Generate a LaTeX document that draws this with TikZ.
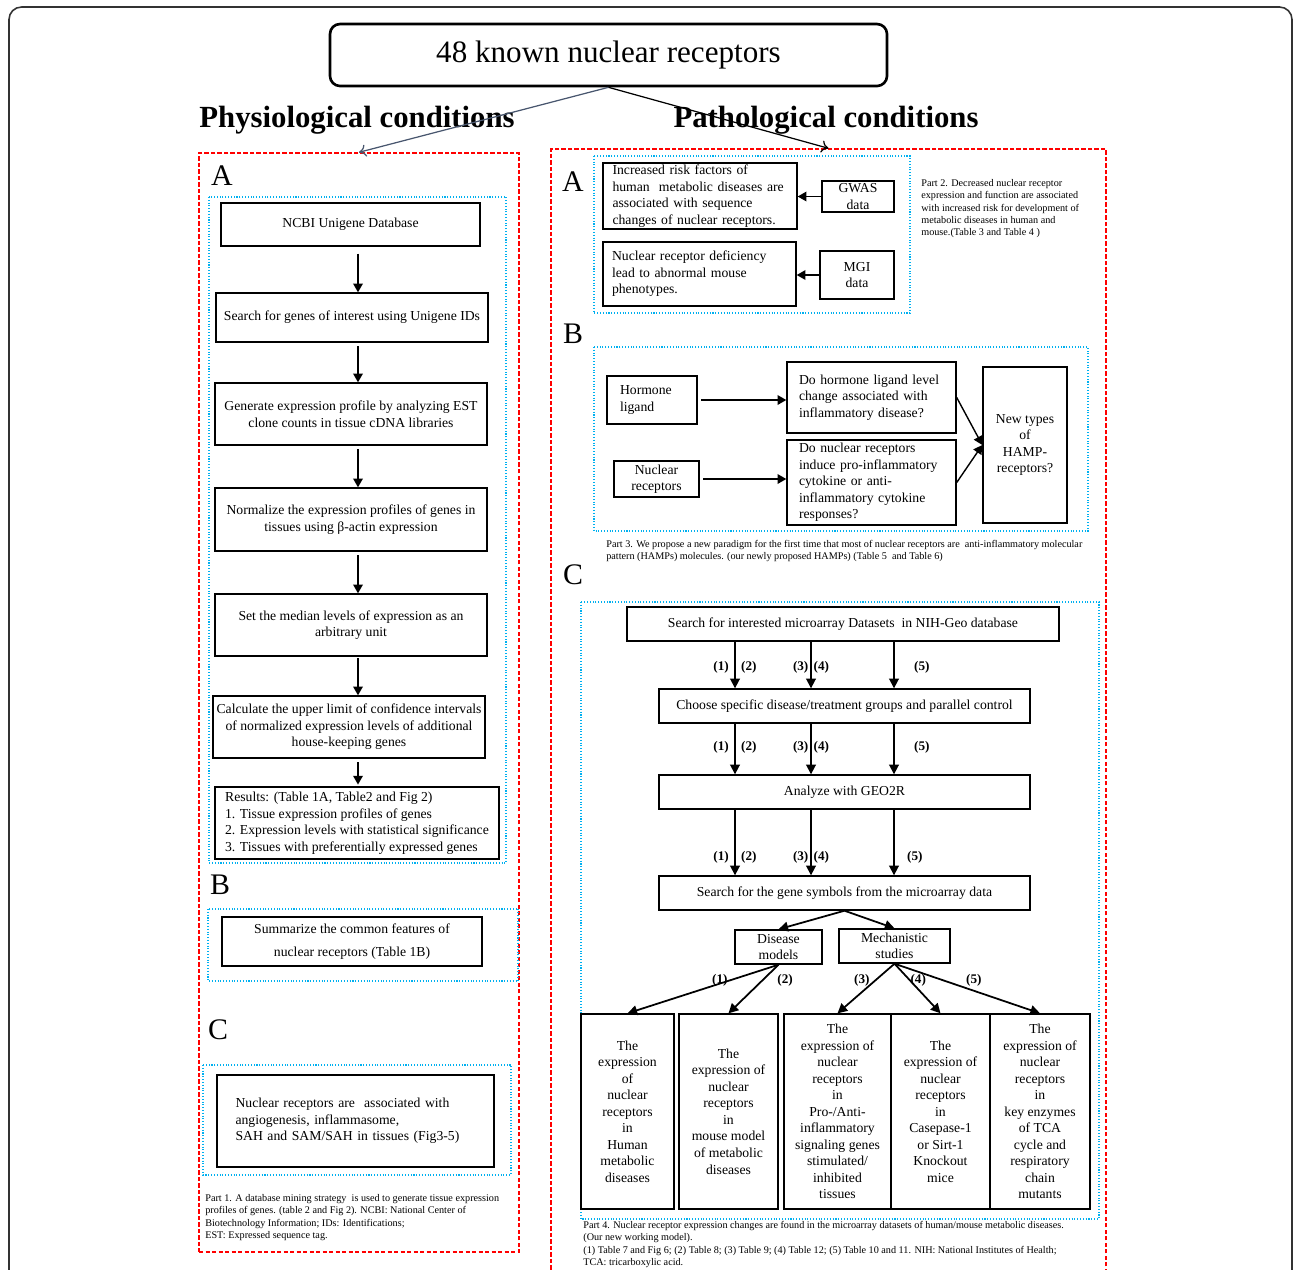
\documentclass[tikz,border=0pt]{standalone}
\usepackage{xcolor}
\usepackage{fontspec}
\setmainfont{Liberation Serif}
\usepackage{tikz}
\usetikzlibrary{arrows.meta, calc}

\definecolor{dotblue}{RGB}{0,176,240}
\definecolor{slate}{RGB}{72,86,110}

\tikzset{
	sz/.style 2 args={minimum width={#1*0.02cm}, minimum height={#2*0.02cm}},
	box/.style={draw, thick, inner sep=0pt, align=center, font=\fontsize{7.8}{9.4}\selectfont},
	redbox/.style={draw=red, line width=0.8pt, dash pattern=on 2.5pt off 1.2pt, inner sep=0pt},
	bluebox/.style={draw=dotblue, line width=0.6pt, densely dotted},
	arr/.style={-{Triangle[length=5pt, width=5.5pt]}, thick},
	arrc/.style={-{Triangle[length=5.5pt, width=5.5pt]}, line width=1pt},
	num/.style={font=\fontsize{7.5}{9}\selectfont\bfseries, inner sep=3pt},
	captext/.style={anchor=north west, align=left, inner sep=0pt, font=\fontsize{5.8}{7}\selectfont},
	letter/.style={font=\fontsize{17}{20}\selectfont},
	head/.style={font=\fontsize{17.5}{20}\selectfont\bfseries}
}

\begin{document}
\begin{tikzpicture}[x=0.02cm, y=-0.02cm]

	\useasboundingbox (0,0) rectangle (1295,1269);

	% outer frame
	\draw[line width=0.9pt, draw=black!80, rounded corners=0.25cm] (9,1290) -- (9,7) -- (1292,7) -- (1292,1290);

	\node[draw, line width=1.5pt, rounded corners=0.2cm, sz={557}{62}, font=\fontsize{17.7}{20}\selectfont] (nr) at (608.5,55) {48 known nuclear receptors};

	\node[head] (physlbl) at (357,120) {Physiological conditions};
	\node[head] (pathlbl) at (826,120) {Pathological conditions};

	\node[redbox, sz={320}{1099}] (phys) at (359,702.5) {};
	\node[redbox, sz={555}{1141}] (path) at (828.5,719.5) {};

	\draw[-{To[length=4pt, width=7pt]}, draw=slate, line width=0.7pt] (nr.south) -- (phys.north);
	\draw[-{To[length=4pt, width=7pt]}, line width=0.7pt] (nr.south) -- (path.north);

	% Part 1
	\begin{scope}
		\node[letter] (la) at (222,176) {A};
		\draw[bluebox] (209,197) rectangle (506,863);
		\coordinate (lx) at (358,0);

		\node[box, sz={259}{43}] (ncbi) at (350.5,224.5) {NCBI Unigene Database};
		\node[box, sz={272}{49}] (srch) at (352,317.5) {Search for genes of interest using Unigene IDs};
		\node[box, sz={272}{62}] (gen) at (351,414) {Generate expression profile by analyzing EST\\clone counts in tissue cDNA libraries};
		\node[box, sz={272}{63}] (norm) at (351,519.5) {Normalize the expression profiles of genes in\\tissues using β-actin expression};
		\node[box, sz={272}{62}] (med) at (351,625) {Set the median levels of expression as an\\arbitrary unit};
		\node[box, sz={272}{62}] (calc) at (349,727) {Calculate the upper limit of confidence intervals\\of normalized expression levels of additional\\house-keeping genes};
		\node[box, sz={284}{72}, align=left] (res) at (357,823) {Results: (Table 1A, Table2 and Fig 2)\\1. Tissue expression profiles of genes\\2. Expression levels with statistical significance\\3. Tissues with preferentially expressed genes};

		\draw[arr, shorten <=4pt] (ncbi.south -| lx) -- (srch.north -| lx);
		\draw[arr, shorten <=2pt] (srch.south -| lx) -- (gen.north -| lx);
		\draw[arr, shorten <=2pt] (gen.south -| lx) -- (norm.north -| lx);
		\draw[arr, shorten <=2pt] (norm.south -| lx) -- (med.north -| lx);
		\draw[arr, shorten <=1pt] (med.south -| lx) -- (calc.north -| lx);
		\draw[arr, shorten <=2pt, shorten >=1pt] (calc.south -| lx) -- (res.north -| lx);

		\node[letter] (lb) at (220,885) {B};
		\draw[bluebox] (208,909) rectangle (518,981);
		\node[box, sz={260}{49}] (summ) at (352,941.5) {Summarize the common features of\\[4pt]nuclear receptors (Table 1B)};

		\node[letter] (lc) at (218,1030) {C};
		\draw[bluebox] (203,1065) rectangle (511,1175);
		\node[box, sz={277}{92}, text width=4.8cm, align=left] (assoc) at (355.5,1121) {Nuclear receptors are\ \ associated with\\angiogenesis, inflammasome,\\SAH and SAM/SAH in tissues (Fig3-5)};

		\node[captext] (cap1) at (205,1194) {Part 1. A database mining strategy\ \ is used to generate tissue expression\\profiles of genes. (table 2 and Fig 2). NCBI: National Center of\\Biotechnology Information; IDs: Identifications;\\EST: Expressed sequence tag.};
	\end{scope}

	% Part 2
	\begin{scope}
		\node[letter] (ra) at (573,182) {A};
		\draw[bluebox] (594,156) rectangle (910,313);
		\node[box, sz={194}{66}, text width=3.5cm, align=left] (risk) at (700,196) {Increased risk factors of\\human\ \ metabolic diseases are\\associated with sequence\\changes of nuclear receptors.};
		\node[box, sz={72}{31}] (gwas) at (858,196.5) {GWAS\\data};
		\node[box, sz={193}{64}, text width=3.5cm, align=left] (defic) at (699.5,274) {Nuclear receptor deficiency\\lead to abnormal mouse\\phenotypes.};
		\node[box, sz={74}{48}] (mgi) at (857,275) {MGI\\data};
		\draw[arr] (gwas.west) -- (gwas.west -| risk.east);
		\draw[arr] (mgi.west) -- (mgi.west -| defic.east);

		\node[captext] (cap2) at (921,179) {Part 2. Decreased nuclear receptor\\expression and function are associated\\with increased risk for development of\\metabolic diseases in human and\\mouse.(Table 3 and Table 4 )};
	\end{scope}

	% Part 3
	\begin{scope}
		\node[letter] (rb) at (573,334) {B};
		\draw[bluebox] (594,347) rectangle (1088,531);
		\node[box, sz={90}{48}, text width=1.28cm, align=left] (horm) at (652,400) {Hormone\\ligand};
		\node[box, sz={85}{36}] (nrec) at (656.5,479) {Nuclear\\receptors};
		\node[box, sz={169}{71}, text width=2.9cm, align=left] (q1) at (871.5,397.5) {Do hormone ligand level\\change associated with\\inflammatory disease?};
		\node[box, sz={169}{85}, text width=2.9cm, align=left] (q2) at (871.5,482.5) {Do nuclear receptors\\induce pro-inflammatory\\cytokine or anti-\\inflammatory cytokine\\responses?};
		\node[box, sz={84}{156}] (hamp) at (1025,445) {New types\\of\\HAMP-\\receptors?};

		\draw[arr, shorten <=2pt] (horm.east) -- (horm.east -| q1.west);
		\draw[arr, shorten <=2pt] (nrec.east) -- (nrec.east -| q2.west);
		\draw[arr] (q1.east) -- (hamp.west);
		\draw[arr] (q2.east) -- (hamp.west);

		\node[captext] (cap3) at (606,540) {Part 3. We propose a new paradigm for the first time that most of nuclear receptors are\ \ anti-inflammatory molecular\\pattern (HAMPs) molecules. (our newly proposed HAMPs) (Table 5\ \ and Table 6)};
	\end{scope}

	% Part 4
	\begin{scope}
		\node[letter] (rc) at (573,575) {C};
		\draw[bluebox] (581,602) rectangle (1099,1219);
		\coordinate (k1) at (735,0);
		\coordinate (k2) at (811,0);
		\coordinate (k3) at (894,0);

		\node[box, sz={432}{34}] (geo) at (843,624) {Search for interested microarray Datasets\ \ in NIH-Geo database};
		\node[box, sz={371}{34}] (choose) at (844.5,706) {Choose specific disease/treatment groups and parallel control};
		\node[box, sz={371}{34}] (geo2r) at (844.5,792) {Analyze with GEO2R};
		\node[box, sz={371}{34}] (sym) at (844.5,893) {Search for the gene symbols from the microarray data};

		\draw[arrc] (geo.south -| k1) -- node[num, pos=0.54, left] (a1) {(1)} node[num, pos=0.54, right] (a2) {(2)} (choose.north -| k1);
		\draw[arrc] (geo.south -| k2) -- node[num, pos=0.54, left, inner sep=1pt] (a3) {(3)} node[num, pos=0.54, right, inner sep=1pt] (a4) {(4)} (choose.north -| k2);
		\draw[arrc] (geo.south -| k3) -- node[num, pos=0.54, right=8pt] (a5) {(5)} (choose.north -| k3);

		\draw[arrc] (choose.south -| k1) -- node[num, pos=0.46, left] (b1l) {(1)} node[num, pos=0.46, right] (b2l) {(2)} (geo2r.north -| k1);
		\draw[arrc] (choose.south -| k2) -- node[num, pos=0.46, left, inner sep=1pt] (b3l) {(3)} node[num, pos=0.46, right, inner sep=1pt] (b4l) {(4)} (geo2r.north -| k2);
		\draw[arrc] (choose.south -| k3) -- node[num, pos=0.46, right=8pt] (b5l) {(5)} (geo2r.north -| k3);

		\draw[arrc] (geo2r.south -| k1) -- node[num, pos=0.72, left] (c1l) {(1)} node[num, pos=0.72, right] (c2l) {(2)} (sym.north -| k1);
		\draw[arrc] (geo2r.south -| k2) -- node[num, pos=0.72, left, inner sep=1pt] (c3l) {(3)} node[num, pos=0.72, right, inner sep=1pt] (c4l) {(4)} (sym.north -| k2);
		\draw[arrc] (geo2r.south -| k3) -- node[num, pos=0.72, right=4pt] (c5l) {(5)} (sym.north -| k3);

		\node[box, sz={87}{34}] (dis) at (778.5,947) {Disease\\models};
		\node[box, sz={111}{34}] (mech) at (894.5,946) {Mechanistic\\studies};
		\draw[arrc] (sym.south) -- (dis.north);
		\draw[arrc] (sym.south) -- (mech.north);

		\node[box, sz={93}{195}] (e1) at (627.5,1111.5) {The\\expression\\of\\nuclear\\receptors\\in\\Human\\metabolic\\diseases};
		\node[box, sz={99}{195}] (e2) at (728.5,1111.5) {The\\expression of\\nuclear\\receptors\\in\\mouse model\\of metabolic\\diseases};
		\node[box, sz={107}{195}] (e3) at (837.5,1111.5) {The\\expression of\\nuclear\\receptors\\in\\Pro-/Anti-\\inflammatory\\signaling genes\\stimulated/\\inhibited\\tissues};
		\node[box, sz={99}{195}] (e4) at (940.5,1111.5) {The\\expression of\\nuclear\\receptors\\in\\Casepase-1\\or Sirt-1\\Knockout\\mice};
		\node[box, sz={100}{195}] (e5) at (1040,1111.5) {The\\expression of\\nuclear\\receptors\\in\\key enzymes\\of TCA\\cycle and\\respiratory\\chain\\mutants};

		\draw[arrc] (dis.south) -- node[num, pos=0.32, left, inner sep=1pt] (m1) {(1)} (e1.north);
		\draw[arrc] (dis.south) -- node[num, pos=0.32, right=5pt] (m2) {(2)} (e2.north);
		\draw[arrc] (mech.south) -- node[num, pos=0.33, left] (m3) {(3)} (e3.north);
		\draw[arrc] (mech.south) -- node[num, pos=0.33, right, inner sep=0pt] (m4) {(4)} (e4.north);
		\draw[arrc] (mech.south) -- node[num, pos=0.33, right=10pt] (m5) {(5)} (e5.north);

		\node[captext] (cap4) at (583,1221) {Part 4. Nuclear receptor expression changes are found in the microarray datasets of human/mouse metabolic diseases.\\(Our new working model).\\(1) Table 7 and Fig 6; (2) Table 8; (3) Table 9; (4) Table 12; (5) Table 10 and 11. NIH: National Institutes of Health;\\TCA: tricarboxylic acid.};
	\end{scope}
\end{tikzpicture}
\end{document}
